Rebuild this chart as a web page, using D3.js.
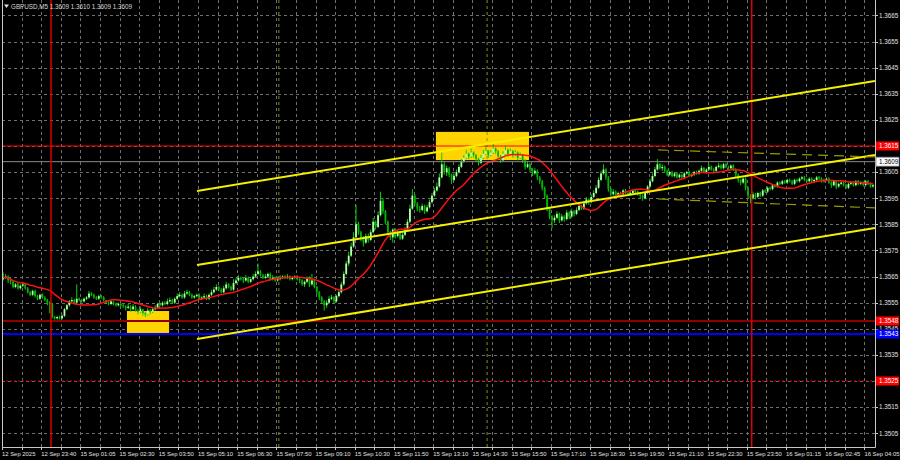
<!DOCTYPE html>
<html><head><meta charset="utf-8">
<script src="https://cdn.jsdelivr.net/npm/d3@7"></script>
<style>body{margin:0;background:#000}svg{display:block}</style>
</head><body><svg id="c" width="900" height="460"></svg>
<script>
// ---------------- DATA ----------------
const symbol = "GBPUSD,M5";
const quote = ["1.3609", "1.3610", "1.3609", "1.3609"];
const priceTicks = [1.3505, 1.3515, 1.3525, 1.3535, 1.3545, 1.3555, 1.3565, 1.3575, 1.3585, 1.3595, 1.3605, 1.3615, 1.3625, 1.3635, 1.3645, 1.3655, 1.3665];
const timeLabels = ["12 Sep 2025", "12 Sep 23:40", "15 Sep 01:05", "15 Sep 02:30", "15 Sep 03:50", "15 Sep 05:10", "15 Sep 06:30", "15 Sep 07:50", "15 Sep 09:10", "15 Sep 10:30", "15 Sep 11:50", "15 Sep 13:10", "15 Sep 14:30", "15 Sep 15:50", "15 Sep 17:10", "15 Sep 18:30", "15 Sep 19:50", "15 Sep 21:10", "15 Sep 22:30", "15 Sep 23:50", "16 Sep 01:15", "16 Sep 02:45", "16 Sep 04:05"];
const barsPerLabel = 16;
const firstOpen = 1.35640;
const closes = [
1.35645,1.35650,1.35635,1.35630,1.35610,1.35620,1.35605,1.35615,1.35620,1.35605,
1.35590,1.35580,1.35595,1.35575,1.35565,1.35580,1.35570,1.35560,1.35550,1.35545,
1.35495,1.35490,1.35495,1.35490,1.35500,1.35525,1.35540,1.35555,1.35560,1.35550,
1.35565,1.35560,1.35555,1.35565,1.35570,1.35585,1.35580,1.35570,1.35565,1.35575,
1.35570,1.35560,1.35550,1.35545,1.35555,1.35545,1.35540,1.35545,1.35540,1.35535,
1.35530,1.35535,1.35525,1.35535,1.35520,1.35515,1.35525,1.35510,1.35505,1.35520,
1.35515,1.35525,1.35530,1.35545,1.35540,1.35550,1.35545,1.35555,1.35560,1.35550,
1.35565,1.35575,1.35580,1.35570,1.35585,1.35590,1.35580,1.35570,1.35575,1.35580,
1.35565,1.35570,1.35575,1.35565,1.35580,1.35590,1.35600,1.35610,1.35600,1.35590,
1.35605,1.35620,1.35610,1.35600,1.35625,1.35635,1.35645,1.35640,1.35635,1.35645,
1.35630,1.35640,1.35650,1.35660,1.35670,1.35655,1.35645,1.35650,1.35660,1.35640,
1.35645,1.35635,1.35640,1.35645,1.35650,1.35645,1.35650,1.35640,1.35645,1.35650,
1.35640,1.35635,1.35620,1.35630,1.35645,1.35620,1.35635,1.35610,1.35590,1.35570,
1.35555,1.35540,1.35550,1.35565,1.35570,1.35555,1.35575,1.35590,1.35620,1.35660,
1.35700,1.35730,1.35765,1.35800,1.35850,1.35820,1.35795,1.35780,1.35805,1.35790,
1.35820,1.35860,1.35840,1.35885,1.35940,1.35900,1.35860,1.35820,1.35800,1.35830,
1.35805,1.35820,1.35795,1.35810,1.35830,1.35860,1.35910,1.35960,1.35930,1.35910,
1.35905,1.35920,1.35900,1.35915,1.35935,1.35960,1.35980,1.35995,1.36030,1.36080,
1.36050,1.36065,1.36040,1.36020,1.36035,1.36050,1.36070,1.36090,1.36105,1.36120,
1.36110,1.36125,1.36115,1.36100,1.36085,1.36105,1.36120,1.36130,1.36115,1.36125,
1.36140,1.36130,1.36110,1.36095,1.36120,1.36135,1.36120,1.36130,1.36115,1.36125,
1.36105,1.36115,1.36095,1.36070,1.36080,1.36060,1.36045,1.36055,1.36030,1.36015,
1.35990,1.35960,1.35910,1.35880,1.35865,1.35875,1.35890,1.35865,1.35880,1.35870,
1.35895,1.35880,1.35900,1.35890,1.35905,1.35920,1.35910,1.35930,1.35945,1.35935,
1.35955,1.35970,1.35990,1.36020,1.36045,1.36060,1.36030,1.35985,1.35965,1.35975,
1.35960,1.35970,1.35965,1.35980,1.35970,1.35965,1.35970,1.35980,1.35975,1.35965,
1.35960,1.35950,1.35970,1.35995,1.36015,1.36035,1.36060,1.36080,1.36065,1.36070,
1.36055,1.36040,1.36050,1.36035,1.36045,1.36030,1.36040,1.36030,1.36045,1.36050,
1.36035,1.36040,1.36050,1.36045,1.36055,1.36065,1.36050,1.36060,1.36070,1.36060,
1.36055,1.36070,1.36075,1.36065,1.36080,1.36070,1.36065,1.36075,1.36060,1.36040,
1.36020,1.36010,1.36025,1.35990,1.35960,1.35950,1.35965,1.35955,1.35970,1.35960,
1.35980,1.35975,1.35990,1.35985,1.36000,1.35995,1.36010,1.36005,1.36015,1.36010,
1.36020,1.36015,1.36005,1.36020,1.36015,1.36025,1.36030,1.36020,1.36015,1.36025,
1.36015,1.36020,1.36030,1.36025,1.36015,1.36020,1.36025,1.36010,1.36000,1.36015,
1.35995,1.36005,1.36010,1.36000,1.35990,1.36005,1.36010,1.36000,1.36015,1.36005,
1.36010,1.36000,1.36015,1.36005,1.35995,1.36000];
const highs = [
1.35665,1.35660,1.35655,1.35645,1.35635,1.35625,1.35625,1.35620,1.35630,1.35625,
1.35610,1.35595,1.35600,1.35600,1.35580,1.35585,1.35585,1.35575,1.35565,1.35555,
1.35545,1.35500,1.35500,1.35500,1.35505,1.35530,1.35545,1.35560,1.35570,1.35565,
1.35620,1.35570,1.35565,1.35570,1.35575,1.35595,1.35590,1.35585,1.35575,1.35580,
1.35580,1.35575,1.35560,1.35555,1.35560,1.35555,1.35550,1.35550,1.35550,1.35545,
1.35540,1.35545,1.35540,1.35545,1.35540,1.35525,1.35535,1.35525,1.35515,1.35530,
1.35525,1.35530,1.35540,1.35550,1.35550,1.35555,1.35555,1.35565,1.35570,1.35565,
1.35570,1.35585,1.35590,1.35585,1.35595,1.35600,1.35595,1.35585,1.35580,1.35585,
1.35585,1.35575,1.35585,1.35580,1.35585,1.35600,1.35610,1.35620,1.35615,1.35605,
1.35615,1.35630,1.35625,1.35615,1.35640,1.35645,1.35655,1.35650,1.35645,1.35655,
1.35650,1.35645,1.35660,1.35670,1.35700,1.35675,1.35660,1.35660,1.35665,1.35665,
1.35655,1.35650,1.35650,1.35655,1.35655,1.35655,1.35660,1.35655,1.35650,1.35655,
1.35655,1.35645,1.35640,1.35635,1.35650,1.35650,1.35660,1.35640,1.35615,1.35595,
1.35575,1.35560,1.35560,1.35575,1.35580,1.35575,1.35580,1.35600,1.35630,1.35670,
1.35710,1.35745,1.35780,1.35820,1.35925,1.35860,1.35825,1.35805,1.35815,1.35815,
1.35830,1.35875,1.35865,1.35900,1.35975,1.35950,1.35905,1.35865,1.35825,1.35835,
1.35835,1.35830,1.35825,1.35820,1.35840,1.35870,1.35925,1.35985,1.35965,1.35935,
1.35920,1.35930,1.35925,1.35925,1.35945,1.35970,1.35990,1.36010,1.36045,1.36125,
1.36090,1.36075,1.36070,1.36045,1.36045,1.36060,1.36080,1.36100,1.36115,1.36135,
1.36125,1.36140,1.36130,1.36120,1.36105,1.36115,1.36135,1.36155,1.36135,1.36135,
1.36160,1.36145,1.36135,1.36115,1.36130,1.36150,1.36140,1.36140,1.36135,1.36135,
1.36130,1.36125,1.36120,1.36100,1.36090,1.36085,1.36065,1.36065,1.36060,1.36035,
1.36020,1.35995,1.35965,1.35915,1.35885,1.35885,1.35900,1.35895,1.35890,1.35885,
1.35905,1.35900,1.35910,1.35905,1.35915,1.35930,1.35925,1.35940,1.35955,1.35950,
1.35965,1.35980,1.36000,1.36030,1.36055,1.36080,1.36065,1.36035,1.35990,1.35985,
1.35980,1.35975,1.35975,1.35985,1.35985,1.35975,1.35980,1.35985,1.35985,1.35980,
1.35970,1.35965,1.35975,1.36000,1.36025,1.36045,1.36070,1.36100,1.36085,1.36080,
1.36075,1.36060,1.36055,1.36055,1.36050,1.36050,1.36045,1.36045,1.36050,1.36055,
1.36055,1.36045,1.36055,1.36055,1.36060,1.36075,1.36070,1.36065,1.36080,1.36075,
1.36065,1.36075,1.36085,1.36080,1.36085,1.36085,1.36075,1.36080,1.36080,1.36065,
1.36045,1.36025,1.36030,1.36030,1.35995,1.35965,1.35975,1.35970,1.35975,1.35975,
1.35985,1.35985,1.35995,1.35995,1.36005,1.36005,1.36015,1.36015,1.36020,1.36020,
1.36025,1.36025,1.36020,1.36025,1.36025,1.36030,1.36035,1.36035,1.36025,1.36030,
1.36030,1.36025,1.36035,1.36035,1.36030,1.36025,1.36030,1.36030,1.36015,1.36020,
1.36015,1.36010,1.36015,1.36015,1.36005,1.36010,1.36015,1.36015,1.36020,1.36020,
1.36015,1.36015,1.36020,1.36020,1.36010,1.36005];
const lows = [
1.35635,1.35640,1.35625,1.35620,1.35605,1.35605,1.35600,1.35600,1.35610,1.35600,
1.35585,1.35575,1.35575,1.35570,1.35560,1.35560,1.35565,1.35555,1.35540,1.35510,
1.35490,1.35485,1.35485,1.35485,1.35485,1.35495,1.35520,1.35535,1.35550,1.35545,
1.35545,1.35555,1.35550,1.35550,1.35560,1.35565,1.35575,1.35565,1.35560,1.35560,
1.35565,1.35555,1.35545,1.35540,1.35540,1.35540,1.35535,1.35535,1.35535,1.35530,
1.35520,1.35525,1.35515,1.35520,1.35515,1.35505,1.35510,1.35500,1.35495,1.35500,
1.35505,1.35510,1.35520,1.35525,1.35535,1.35535,1.35540,1.35540,1.35550,1.35545,
1.35545,1.35560,1.35570,1.35565,1.35565,1.35580,1.35575,1.35565,1.35565,1.35570,
1.35560,1.35560,1.35565,1.35560,1.35560,1.35575,1.35585,1.35595,1.35595,1.35585,
1.35585,1.35600,1.35605,1.35595,1.35595,1.35620,1.35630,1.35635,1.35625,1.35630,
1.35625,1.35625,1.35635,1.35645,1.35655,1.35650,1.35640,1.35640,1.35645,1.35635,
1.35635,1.35630,1.35630,1.35635,1.35640,1.35640,1.35640,1.35635,1.35635,1.35640,
1.35635,1.35625,1.35615,1.35610,1.35625,1.35610,1.35615,1.35605,1.35580,1.35560,
1.35545,1.35520,1.35530,1.35545,1.35560,1.35545,1.35550,1.35570,1.35585,1.35615,
1.35655,1.35690,1.35725,1.35760,1.35795,1.35810,1.35785,1.35765,1.35775,1.35780,
1.35785,1.35815,1.35830,1.35835,1.35880,1.35890,1.35850,1.35810,1.35790,1.35780,
1.35795,1.35800,1.35790,1.35790,1.35805,1.35825,1.35855,1.35905,1.35920,1.35900,
1.35895,1.35900,1.35890,1.35895,1.35910,1.35930,1.35955,1.35975,1.35990,1.36025,
1.36040,1.36035,1.36030,1.36005,1.36015,1.36030,1.36045,1.36065,1.36085,1.36100,
1.36100,1.36105,1.36105,1.36090,1.36075,1.36080,1.36100,1.36115,1.36105,1.36110,
1.36120,1.36120,1.36100,1.36085,1.36090,1.36115,1.36110,1.36115,1.36105,1.36110,
1.36095,1.36100,1.36085,1.36060,1.36065,1.36050,1.36035,1.36040,1.36020,1.36005,
1.35980,1.35950,1.35900,1.35870,1.35835,1.35855,1.35870,1.35855,1.35860,1.35860,
1.35865,1.35870,1.35875,1.35880,1.35885,1.35900,1.35905,1.35905,1.35925,1.35925,
1.35930,1.35950,1.35965,1.35985,1.36015,1.36040,1.36020,1.35975,1.35955,1.35960,
1.35955,1.35955,1.35960,1.35960,1.35965,1.35960,1.35960,1.35965,1.35970,1.35960,
1.35950,1.35940,1.35945,1.35965,1.35990,1.36010,1.36030,1.36055,1.36060,1.36055,
1.36050,1.36035,1.36035,1.36030,1.36030,1.36025,1.36025,1.36025,1.36025,1.36040,
1.36030,1.36030,1.36035,1.36040,1.36040,1.36050,1.36045,1.36045,1.36055,1.36055,
1.36050,1.36050,1.36065,1.36060,1.36060,1.36065,1.36060,1.36060,1.36055,1.36030,
1.36010,1.36000,1.36005,1.35980,1.35950,1.35930,1.35945,1.35945,1.35950,1.35955,
1.35955,1.35970,1.35970,1.35980,1.35980,1.35990,1.35990,1.36000,1.36000,1.36005,
1.36005,1.36010,1.36000,1.36000,1.36010,1.36010,1.36020,1.36015,1.36010,1.36010,
1.36010,1.36010,1.36015,1.36020,1.36010,1.36010,1.36015,1.36005,1.35990,1.35995,
1.35985,1.35990,1.36000,1.35995,1.35985,1.35985,1.36000,1.35995,1.35995,1.36000,
1.36000,1.35995,1.35995,1.36000,1.35990,1.35990];
const maPeriod = 20;
// horizontal levels: price
const levelPrices = [1.3615, 1.3609, 1.3548, 1.3543, 1.3525];
const levelLabels = ["1.3615", "1.3609", "1.3548", "1.3543", "1.3525"];
// vertical markers (bar index)
const dayMarkerBars = [20, 306];
const separatorBars = [113, 198];
// zones: [barStart, barEnd, priceLow, priceHigh]
const zoneBoxes = [[51, 68.2, 1.35434, 1.35518], [177.1, 215.1, 1.36096, 1.36204]];
// channel lines: [bar1, price1, bar2, price2]
const channelLines = [[79.6, 1.35978, 356.3, 1.36399], [79.6, 1.35694, 356.3, 1.36116], [79.6, 1.35411, 356.3, 1.35836]];
const dashedLines = [[267.8, 1.36135, 356.3, 1.36108], [267.8, 1.35947, 356.3, 1.35913]];

// ---------------- CHART ----------------
const svg = d3.select("#c");
const W = 900, H = 460;
const plotL = 2, plotR = 875, plotT = 0, plotB = 447;
const nBars = closes.length;
const x = d3.scaleLinear().domain([0, nBars]).range([plotL, plotL + nBars * 2.45]);
const y = d3.scaleLinear().domain([1.3525, 1.3615]).range([381, 146]);
const FONT = "Liberation Sans, Arial, sans-serif";

svg.append("rect").attr("width", W).attr("height", H).attr("fill", "#000");
svg.append("defs").append("clipPath").attr("id", "clip")
  .append("rect").attr("x", plotL).attr("y", plotT).attr("width", plotR - plotL).attr("height", plotB - plotT);
const plot = svg.append("g").attr("clip-path", "url(#clip)");

// grid
const gridBars = d3.range(8, nBars, 8);
plot.append("g").selectAll("line").data(gridBars).join("line")
  .attr("x1", d => Math.round(x(d)) + 0.5).attr("x2", d => Math.round(x(d)) + 0.5)
  .attr("y1", plotT).attr("y2", plotB)
  .attr("stroke", "#6e6e6e").attr("stroke-dasharray", "3,3");
plot.append("g").selectAll("line").data(priceTicks).join("line")
  .attr("x1", plotL).attr("x2", plotR)
  .attr("y1", d => Math.round(y(d)) + 0.5).attr("y2", d => Math.round(y(d)) + 0.5)
  .attr("stroke", "#6e6e6e").attr("stroke-dasharray", "3,3");

// zones
plot.append("g").selectAll("rect").data(zoneBoxes).join("rect")
  .attr("x", d => x(d[0])).attr("width", d => x(d[1]) - x(d[0]))
  .attr("y", d => y(d[3])).attr("height", d => y(d[2]) - y(d[3]))
  .attr("fill", "#ffd400");

// separators
plot.append("g").selectAll("line").data(separatorBars).join("line")
  .attr("x1", d => x(d)).attr("x2", d => x(d)).attr("y1", plotT).attr("y2", plotB)
  .attr("stroke", "#6c9a1a").attr("stroke-dasharray", "3,3");

// candles
const bars = closes.map((c, i) => ({ i, o: i === 0 ? firstOpen : closes[i - 1], c, h: highs[i], l: lows[i] }));
const cg = plot.append("g");
cg.selectAll("line").data(bars).join("line")
  .attr("x1", d => x(d.i + 0.5)).attr("x2", d => x(d.i + 0.5))
  .attr("y1", d => y(d.h)).attr("y2", d => y(d.l))
  .attr("stroke", "#00d400").attr("stroke-width", 1);
cg.selectAll("rect").data(bars).join("rect")
  .attr("x", d => x(d.i + 0.5) - 0.9).attr("width", 1.8)
  .attr("y", d => y(Math.max(d.o, d.c)))
  .attr("height", d => Math.max(1, Math.abs(y(d.o) - y(d.c))))
  .attr("fill", d => d.c >= d.o ? "#b6ffb0" : "#00b400");

// moving average
const ma = closes.map((c, i) => d3.mean(closes.slice(Math.max(0, i - maPeriod + 1), i + 1)));
plot.append("path").datum(ma)
  .attr("d", d3.line().x((d, i) => x(i + 0.5)).y(d => y(d)))
  .attr("fill", "none").attr("stroke", "#ff1010").attr("stroke-width", 1.5);

// horizontal levels
const levelStyle = [
  { stroke: "#ff0000", w: 1, dash: null },
  { stroke: "#8a8a8a", w: 1, dash: null },
  { stroke: "#8e0000", w: 2, dash: null },
  { stroke: "#0000ff", w: 2.2, dash: null },
  { stroke: "#d00000", w: 1, dash: "2,2" }
];
plot.append("g").selectAll("line").data(levelPrices).join("line")
  .attr("x1", plotL).attr("x2", plotR)
  .attr("y1", d => y(d)).attr("y2", d => y(d))
  .attr("stroke", (d, i) => levelStyle[i].stroke)
  .attr("stroke-width", (d, i) => levelStyle[i].w)
  .attr("stroke-dasharray", (d, i) => levelStyle[i].dash);

// day markers
plot.append("g").selectAll("line").data(dayMarkerBars).join("line")
  .attr("x1", d => x(d)).attr("x2", d => x(d)).attr("y1", plotT).attr("y2", plotB)
  .attr("stroke", "#dd0000").attr("stroke-width", 1.5);

// channel
plot.append("g").selectAll("line").data(channelLines).join("line")
  .attr("x1", d => x(d[0])).attr("y1", d => y(d[1]))
  .attr("x2", d => x(d[2])).attr("y2", d => y(d[3]))
  .attr("stroke", "#f5f000").attr("stroke-width", 2);
plot.append("g").selectAll("line").data(dashedLines).join("line")
  .attr("x1", d => x(d[0])).attr("y1", d => y(d[1]))
  .attr("x2", d => x(d[2])).attr("y2", d => y(d[3]))
  .attr("stroke", "#9a9a00").attr("stroke-width", 1.2).attr("stroke-dasharray", "10,6");

// frame
svg.append("path").attr("d", `M${plotL + 0.5},${plotT}V${plotB + 0.5}H${plotR + 0.5}V${plotT}`)
  .attr("fill", "none").attr("stroke", "#c8c8c8").attr("stroke-width", 1);

// price axis
const pa = svg.append("g");
pa.selectAll("line").data(priceTicks).join("line")
  .attr("x1", plotR).attr("x2", plotR + 3)
  .attr("y1", d => Math.round(y(d)) + 0.5).attr("y2", d => Math.round(y(d)) + 0.5)
  .attr("stroke", "#c8c8c8");
pa.selectAll("text").data(priceTicks).join("text")
  .attr("x", plotR + 4).attr("y", d => y(d) + 2.3)
  .attr("fill", "#e0e0e0").attr("font-family", FONT).attr("font-size", 6.3)
  .text(d => d.toFixed(4));

// time axis
const tickBars = d3.range(0, nBars, 8);
const ta = svg.append("g");
ta.selectAll("line").data(tickBars).join("line")
  .attr("x1", d => Math.round(x(d)) + 0.5).attr("x2", d => Math.round(x(d)) + 0.5)
  .attr("y1", plotB).attr("y2", plotB + 3)
  .attr("stroke", "#c8c8c8");
ta.selectAll("text").data(timeLabels).join("text")
  .attr("x", (d, k) => x(k * barsPerLabel)).attr("y", 456)
  .attr("fill", "#e0e0e0").attr("font-family", FONT).attr("font-size", 5.9)
  .text(d => d);

// level labels
const labelBg = ["#ff0000", "#ffffff", "#ff0000", "#0000ff", "#ff0000"];
const labelFg = ["#ffffff", "#000000", "#ffffff", "#ffffff", "#ffffff"];
const lg = svg.append("g").selectAll("g").data(levelPrices).join("g")
  .attr("transform", d => `translate(${plotR + 1},${y(d)})`);
lg.append("rect").attr("x", 0).attr("y", -4.5).attr("width", 23).attr("height", 9)
  .attr("fill", (d, i) => labelBg[i]).attr("stroke", (d, i) => i === 1 ? "#808080" : "none").attr("stroke-width", 0.8);
lg.append("text").attr("x", 3).attr("y", 2.3)
  .attr("fill", (d, i) => labelFg[i]).attr("font-family", FONT).attr("font-size", 6.3)
  .text((d, i) => levelLabels[i]);

// title
svg.append("path").attr("d", "M4,4.5L9,4.5L6.5,8Z").attr("fill", "#e0e0e0");
svg.append("text").attr("x", 11).attr("y", 8.5)
  .attr("fill", "#d8d8d8").attr("font-family", FONT).attr("font-size", 6.3)
  .text(`${symbol}  ${quote.join(" ")}`);
</script></body></html>
